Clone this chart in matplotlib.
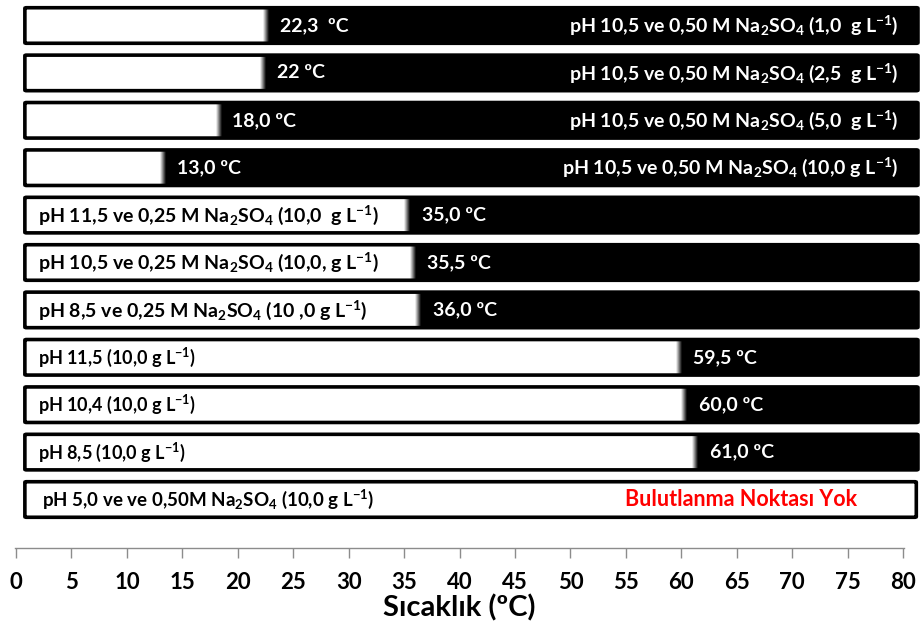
import numpy as np
import matplotlib
matplotlib.use("Agg")
import matplotlib.pyplot as plt
from matplotlib.patches import Rectangle, FancyBboxPatch

plt.rcParams['font.family'] = ['Lato', 'DejaVu Sans']
plt.rcParams['mathtext.fontset'] = 'custom'
plt.rcParams['mathtext.rm'] = 'Lato:bold'
plt.rcParams['mathtext.bf'] = 'Lato:bold'
plt.rcParams['mathtext.it'] = 'Lato:bold'

NA = r'Na$_{\mathregular{2}}$SO$_{\mathregular{4}}$'
GL = r'g L$^{\mathregular{-1}}$)'

# ---- data ----
conditions = [
    'pH 10,5 ve 0,50 M ' + NA + ' (1,0  ' + GL,
    'pH 10,5 ve 0,50 M ' + NA + ' (2,5  ' + GL,
    'pH 10,5 ve 0,50 M ' + NA + ' (5,0  ' + GL,
    'pH 10,5 ve 0,50 M ' + NA + ' (10,0 ' + GL,
    'pH 11,5 ve 0,25 M ' + NA + ' (10,0  ' + GL,
    'pH 10,5 ve 0,25 M ' + NA + ' (10,0, ' + GL,
    'pH 8,5 ve 0,25 M ' + NA + ' (10 ,0 ' + GL,
    'pH 11,5 (10,0 ' + GL,
    'pH 10,4 (10,0 ' + GL,
    'pH 8,5 (10,0 ' + GL,
    'pH 5,0 ve ve 0,50M ' + NA + ' (10,0 ' + GL,
]
cloud_points = [22.3, 22.0, 18.0, 13.0, 35.0, 35.5, 36.0, 59.5, 60.0, 61.0, None]
temp_labels = ['22,3  ºC', '22 ºC', '18,0 ºC', '13,0 ºC', '35,0 ºC', '35,5 ºC',
               '36,0 ºC', '59,5 ºC', '60,0 ºC', '61,0 ºC', None]
no_cloud_text = 'Bulutlanma Noktası Yok'
xticks = list(range(0, 81, 5))
xlabel = 'Sıcaklık (ºC)'

# ---- figure ----
W, H = 921, 630
fig = plt.figure(figsize=(W / 100, H / 100), dpi=100)
x0px, x1px, ybot = 16, 903, 548
ax = fig.add_axes([x0px / W, (H - ybot) / H, (x1px - x0px) / W, ybot / H])
pitch = 47.4
ax.set_xlim(0, 80)
ax.set_ylim((ybot - 25.5) / pitch, -25.5 / pitch)

bar_left, bar_right = 0.8, 81.35
bh = 0.75
grad = np.linspace(1, 0, 64).reshape(1, -1)
gw = 0.5

for i, (cond, cp, tl) in enumerate(zip(conditions, cloud_points, temp_labels)):
    y0 = i - bh / 2
    right = bar_right if cp is not None else 81.2
    if cp is not None:
        ax.add_patch(Rectangle((bar_left, y0), right - bar_left, bh, facecolor='black',
                               edgecolor='none', clip_on=False, zorder=1))
        ax.add_patch(Rectangle((bar_left, y0), cp - bar_left, bh, facecolor='white',
                               edgecolor='none', clip_on=False, zorder=2))
        im = ax.imshow(grad, cmap='gray', vmin=0, vmax=1, aspect='auto',
                       extent=(cp, cp + gw, y0 + bh, y0), zorder=2, interpolation='bilinear')
        im.set_clip_on(False)
    else:
        ax.add_patch(Rectangle((bar_left, y0), right - bar_left, bh, facecolor='white',
                               edgecolor='none', clip_on=False, zorder=1))
    ax.add_patch(FancyBboxPatch((bar_left, y0), right - bar_left, bh,
                                boxstyle='round,pad=0,rounding_size=0.15',
                                facecolor='none', edgecolor='black', linewidth=2.6,
                                clip_on=False, zorder=3, mutation_aspect=1 / 11))
    if i < 4:
        ax.text(cp + 1.5, i, tl, color='white', fontsize=14, fontweight='bold',
                ha='left', va='center', zorder=4)
        ax.text(79.6, i, cond, color='white', fontsize=14, fontweight='bold',
                ha='right', va='center', zorder=4)
    elif cp is not None:
        ax.text(1.95, i, cond, color='black', fontsize=14 if i < 7 else 13,
                fontweight='bold', ha='left', va='center', zorder=4)
        ax.text(cp + 1.6, i, tl, color='white', fontsize=14, fontweight='bold',
                ha='left', va='center', zorder=4)
    else:
        ax.text(2.3, i, cond, color='black', fontsize=13.5, fontweight='bold',
                ha='left', va='center', zorder=4)
        ax.text(65.4, i, no_cloud_text, color='#ff0000', fontsize=15.5, fontweight='bold',
                ha='center', va='center', zorder=4)

for s in ['top', 'right', 'left']:
    ax.spines[s].set_visible(False)
ax.spines['bottom'].set_color('#8c8c8c')
ax.spines['bottom'].set_linewidth(1.0)
ax.spines['bottom'].set_bounds(-0.1, 80.1)
ax.set_yticks([])
ax.set_xticks(xticks)
ax.set_xticklabels([str(t) for t in xticks])
ax.tick_params(axis='x', direction='out', length=7, width=1.0, color='#8c8c8c',
               labelsize=16, pad=10)
for lab in ax.get_xticklabels():
    lab.set_fontweight('bold')
ax.set_xlabel(xlabel, fontsize=21, fontweight='bold', labelpad=1)
ax.patch.set_visible(False)

fig.savefig('out.png', dpi=100)
